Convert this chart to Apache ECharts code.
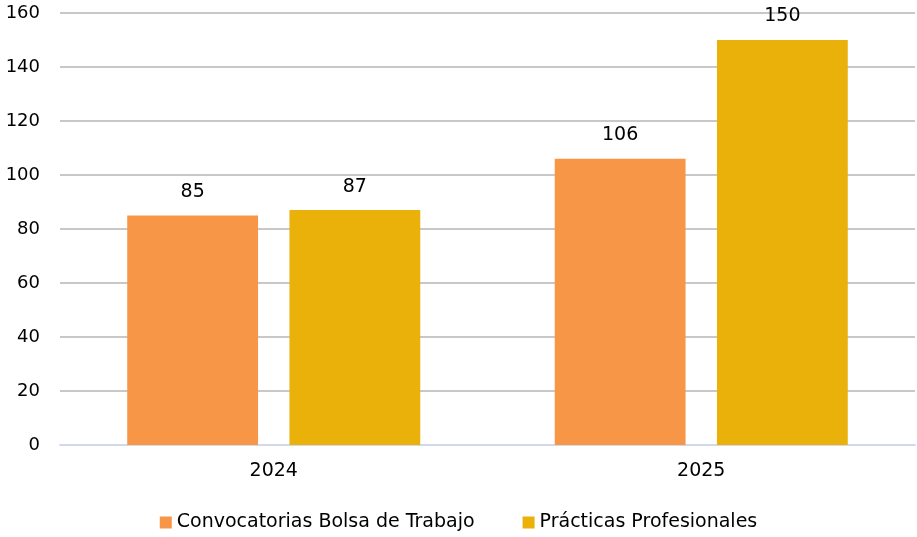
<!DOCTYPE html>
<html>
<head>
<meta charset="utf-8">
<script src="https://cdn.jsdelivr.net/npm/echarts@6/dist/echarts.min.js"></script>
<style>
  html, body { margin: 0; padding: 0; background: #fff; }
  #chart { width: 917px; height: 537px; }
</style>
</head>
<body>
<div id="chart"></div>
<script>
// datos
const years = ['2024', '2025']
const bolsaTrabajo = [85, 106]
const practicas = [87, 150]
const yTicks = [0, 20, 40, 60, 80, 100, 120, 140, 160]

const fontFamily = 'DejaVu Sans, sans-serif'
const orange = '#F79646'
const yellow = '#E9B10A'

const chart = echarts.init(document.getElementById('chart'))

function barSeries(name, data, color) {
  return {
    name: name,
    type: 'bar',
    data: data,
    barWidth: '30.6%',
    barGap: '24%',
    itemStyle: { color: color },
    label: {
      show: true,
      position: 'top',
      distance: 14,
      color: '#000',
      fontSize: 19,
      fontFamily: fontFamily
    }
  }
}

chart.setOption({
  animation: false,
  textStyle: { fontFamily: fontFamily },
  grid: { left: 60, right: 2, top: 13, bottom: 92, containLabel: false },
  legend: {
    bottom: 0,
    left: 'center',
    itemWidth: 12,
    itemHeight: 12,
    itemGap: 48,
    icon: 'rect',
    textStyle: { fontSize: 19, color: '#000', fontFamily: fontFamily },
    data: ['Convocatorias Bolsa de Trabajo', 'Prácticas Profesionales']
  },
  xAxis: {
    type: 'category',
    data: years,
    axisLine: { lineStyle: { color: '#D0DAEC', width: 2 } },
    axisTick: { show: false },
    axisLabel: { color: '#000', fontSize: 19, margin: 17, fontFamily: fontFamily }
  },
  yAxis: {
    type: 'value',
    min: yTicks[0],
    max: yTicks[yTicks.length - 1],
    interval: 20,
    axisLine: { show: false },
    axisTick: { show: false },
    axisLabel: { color: '#000', fontSize: 18, margin: 20, fontFamily: fontFamily },
    splitLine: { lineStyle: { color: '#C8C8C8', width: 2 } }
  },
  series: [
    barSeries('Convocatorias Bolsa de Trabajo', bolsaTrabajo, orange),
    barSeries('Prácticas Profesionales', practicas, yellow)
  ]
})
</script>
</body>
</html>
